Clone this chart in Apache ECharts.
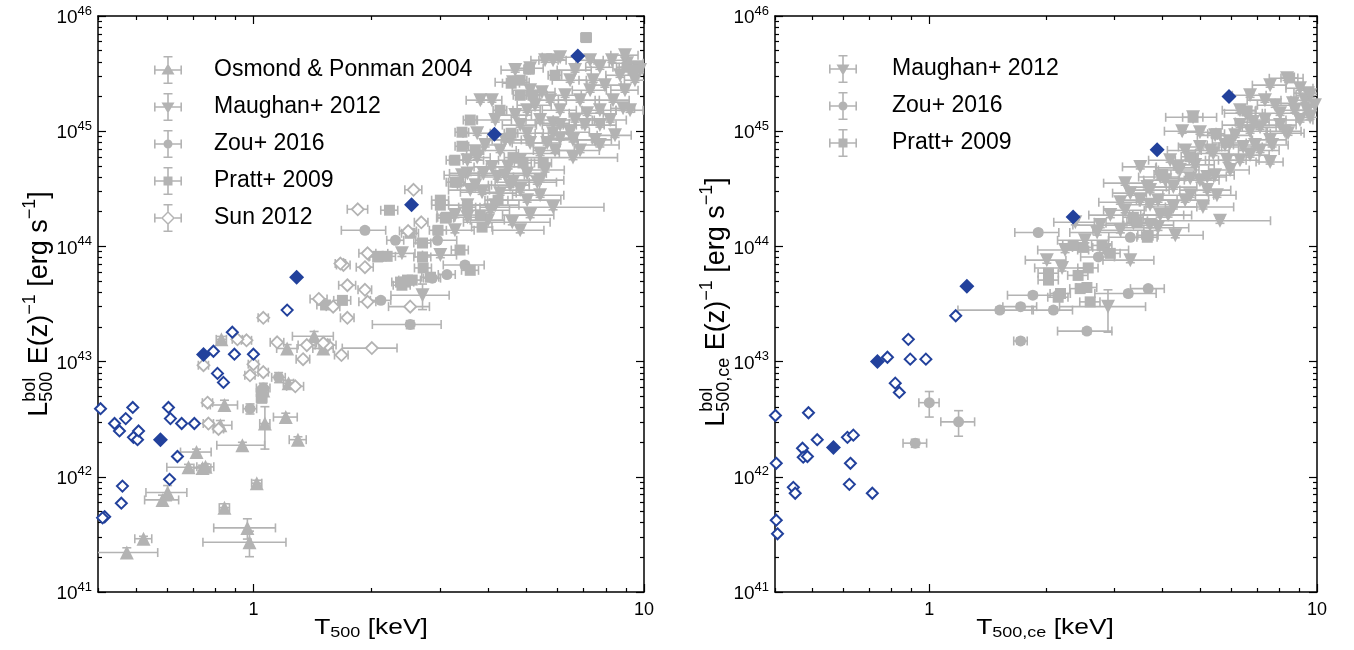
<!DOCTYPE html>
<html><head><meta charset="utf-8">
<script src="https://cdn.jsdelivr.net/npm/echarts@6/dist/echarts.min.js"></script>
<style>html,body{margin:0;padding:0;background:#fff}#c{width:1354px;height:650px}</style>
</head><body><div id="c"></div>
<script>
// ---------------- data (T in keV, L in erg/s, eT/eL fractional errors) ----------------
const xRange = [0.4, 10];
const yRangeExp = [41, 46];
const xMajor = [1, 10];
const xMinor = [0.4, 0.5, 0.6, 0.7, 0.8, 0.9, 2, 3, 4, 5, 6, 7, 8, 9];
const yMajorExp = [41, 42, 43, 44, 45, 46];
const yMinorFactors = [2, 3, 4, 5, 6, 7, 8, 9];

const legendLeft = ['Osmond & Ponman 2004', 'Maughan+ 2012', 'Zou+ 2016', 'Pratt+ 2009', 'Sun 2012'];
const legendRight = ['Maughan+ 2012', 'Zou+ 2016', 'Pratt+ 2009'];

// Left panel: T500
const osmondL = [
  [1.43,1.66e43,0.12,0.10],[1.22,1.3e43,0.06,0.08],[1.51,1.3e43,0.06,0.08],[0.843,4.2e42,0.08,0.10],
  [0.823,2.8e42,0.07,0.10],[1.07,2.9e42,0.03,0.40],[1.21,3.3e42,0.07,0.08],[0.937,1.88e42,0.14,0.06],
  [1.30,2.1e42,0.05,0.06],[0.715,1.64e42,0.09,0.06],[0.682,1.21e42,0.12,0.06],[0.741,1.19e42,0.05,0.06],
  [0.754,1.22e42,0.05,0.06],[0.603,7.3e41,0.12,0.15],[0.585,6.3e41,0.10,0.10],[1.02,8.8e41,0.03,0.06],
  [0.843,5.4e41,0.03,0.08],[0.965,3.6e41,0.18,0.20],[0.977,2.7e41,0.24,0.25],[0.523,2.9e41,0.05,0.05],
  [0.474,2.2e41,0.20,0.10],[1.23,6.5e42,0.03,0.06],[1.06,5.6e42,0.03,0.06],[0.828,1.56e43,0.03,0.06]
];
const maughanL = [
  [5.11,3.52e45,0.08,0.04],[6.10,4.39e45,0.10,0.04],[5.85,4.13e45,0.08,0.04],[8.28,4.13e45,0.10,0.04],
  [7.71,3.59e45,0.08,0.04],[9.05,3.89e45,0.10,0.04],[9.60,3.59e45,0.10,0.04],[4.08,1.86e45,0.06,0.04],
  [4.62,2.66e45,0.10,0.04],[6.47,2.77e45,0.10,0.04],[7.41,2.77e45,0.08,0.04],[5.48,2.18e45,0.08,0.04],
  [6.86,1.86e45,0.12,0.04],[8.33,1.86e45,0.10,0.04],[8.84,1.58e45,0.07,0.04],[5.02,1.52e45,0.08,0.04],
  [6.10,1.52e45,0.10,0.04],[7.15,1.43e45,0.10,0.04],[5.42,1.25e45,0.08,0.04],[5.85,1.17e45,0.10,0.04],
  [3.74,9.6e44,0.08,0.04],[5.02,9.6e44,0.10,0.04],[5.85,9.6e44,0.10,0.04],[6.47,9.8e44,0.12,0.04],
  [5.11,7.9e44,0.10,0.04],[5.65,7.9e44,0.08,0.04],[6.10,8.7e44,0.10,0.04],[6.58,8.4e44,0.12,0.04],
  [5.42,6.4e44,0.12,0.04],[6.58,5.9e44,0.30,0.04],[3.53,5.6e44,0.10,0.04],[3.74,5.9e44,0.08,0.04],
  [4.08,4.9e44,0.10,0.04],[4.49,4.9e44,0.12,0.04],[5.02,4.3e44,0.12,0.04],[5.42,3.76e44,0.15,0.04],
  [3.53,4.3e44,0.10,0.04],[3.88,4.3e44,0.10,0.04],[4.21,4.0e44,0.10,0.04],[4.62,3.61e44,0.10,0.04],
  [3.85,2.95e44,0.12,0.04],[4.28,2.9e44,0.10,0.04],[5.02,2.52e44,0.22,0.04],[5.85,2.19e44,0.35,0.05],
  [3.53,2.28e44,0.15,0.04],[4.60,1.62e44,0.25,0.05],[3.53,1.79e44,0.12,0.05],[3.99,1.69e44,0.10,0.05],
  [5.33,3.61e44,0.12,0.04],[2.71,3.77e43,0.17,0.25],[2.40,8.7e43,0.08,0.06],[7.28,2.27e45,0.10,0.04],
  [7.94,2.51e45,0.10,0.04],[8.68,3.06e45,0.08,0.04],[9.77,3.39e45,0.06,0.04],[4.82,1.13e45,0.10,0.04],
  [4.41,8.4e44,0.10,0.04],[5.75,1.86e45,0.10,0.04],[6.66,1.25e45,0.12,0.04],[7.50,8.4e44,0.10,0.04],
  [4.68,1.38e45,0.10,0.04],[5.26,1.68e45,0.10,0.04],[6.28,2.05e45,0.10,0.04],[7.06,1.13e45,0.12,0.04],
  [7.71,1.52e45,0.10,0.04],[8.19,1.25e45,0.10,0.04],[8.94,2.27e45,0.08,0.04],[5.92,6.8e44,0.12,0.04],
  [4.82,5.6e44,0.12,0.04],[5.58,4.6e44,0.12,0.04],[4.28,6.8e44,0.10,0.04],[3.92,7.6e44,0.10,0.04],
  [6.10,1.13e45,0.10,0.04],[5.11,2.27e45,0.10,0.04],[4.68,3.39e45,0.08,0.04],[6.66,3.39e45,0.10,0.04],
  [7.28,4.13e45,0.08,0.04],[6.86,6.8e44,0.12,0.04],[4.54,3.4e44,0.12,0.04],[4.16,2.28e44,0.15,0.04],
  [3.59,3.08e44,0.12,0.04],[4.82,1.38e44,0.15,0.05],[3.28,1.38e44,0.12,0.05],[3.01,8.4e43,0.10,0.05],
  [5.42,2.78e44,0.15,0.04],[3.42,4.15e44,0.10,0.04],[3.70,3.4e44,0.10,0.04],[4.41,4.15e44,0.12,0.04],
  [4.82,3.08e44,0.12,0.04],[4.04,2.06e44,0.12,0.04],[3.28,1.87e44,0.10,0.05],[5.11,1.87e44,0.15,0.05],
  [7.71,1.13e45,0.10,0.04],[8.43,9.2e44,0.10,0.04],[9.21,1.52e45,0.08,0.04],[7.71,7.6e44,0.12,0.04],
  [5.58,4.13e45,0.08,0.04],[8.94,4.57e45,0.08,0.04],[9.48,2.77e45,0.06,0.04],[4.16,1.25e45,0.10,0.04],
  [4.54,8.4e44,0.10,0.04],[3.81,1.86e45,0.08,0.04]
];
const zouL = [
  [1.93,1.38e44,0.13,0.05],[2.31,1.13e44,0.05,0.05],[2.96,1.13e44,0.12,0.05],[3.48,6.9e43,0.12,0.06],
  [3.13,5.7e43,0.05,0.05],[2.87,5.3e43,0.05,0.05],[2.12,3.4e43,0.06,0.05],[2.52,2.1e43,0.20,0.08],
  [0.98,3.9e42,0.04,0.10],[1.16,7.3e42,0.04,0.10],[1.06,5.9e42,0.04,0.10]
];
const prattL = [
  [7.11,6.5e45,0.03,0.03],[5.08,3.45e45,0.03,0.03],[4.57,2.61e45,0.05,0.03],[4.82,2.05e45,0.04,0.03],
  [5.20,2.05e45,0.04,0.03],[3.42,9.8e44,0.04,0.03],[4.57,9.6e44,0.04,0.03],[3.42,7.4e44,0.04,0.03],
  [3.28,3.61e44,0.05,0.03],[3.12,1.79e44,0.05,0.03],[2.97,1.38e44,0.05,0.03],[3.81,1.87e44,0.06,0.03],
  [3.85,1.47e44,0.06,0.03],[2.71,1.07e44,0.05,0.03],[2.23,2.06e44,0.05,0.03],[4.23,2.52e44,0.06,0.03],
  [4.62,5.9e44,0.05,0.03],[4.90,5.3e44,0.05,0.03],[5.52,5.3e44,0.05,0.03],[9.05,3.59e45,0.06,0.03],
  [9.37,3.39e45,0.06,0.03],[2.09,8.2e43,0.05,0.03],[2.20,8.2e43,0.05,0.03],[2.71,8.1e43,0.05,0.03],
  [2.72,6.5e43,0.05,0.03],[2.45,4.9e43,0.05,0.03],[2.55,5.1e43,0.05,0.03],[2.40,4.6e43,0.05,0.03],
  [3.10,1.76e44,0.05,0.03],[3.53,2.19e44,0.05,0.03],[3.32,3.61e44,0.05,0.03],[2.52,1.30e44,0.05,0.03],
  [1.53,3.1e43,0.05,0.03],[1.69,3.4e43,0.05,0.03],[2.48,5.1e43,0.05,0.03],[2.38,4.9e43,0.05,0.03],
  [2.84,5.4e43,0.05,0.03],[2.08,8.1e43,0.05,0.03],[1.05,5.4e42,0.03,0.05],[1.05,4.8e42,0.03,0.05],
  [3.59,1.25e45,0.04,0.03],[4.28,1.52e45,0.04,0.03],[3.38,9.3e43,0.05,0.03],[3.01,2.52e44,0.05,0.03],
  [3.59,6.2e43,0.05,0.03],[3.70,6.8e44,0.05,0.03],[3.28,5.6e44,0.05,0.03],[3.01,2.28e44,0.05,0.03],
  [4.82,2.77e45,0.04,0.03],[5.92,3.06e45,0.04,0.03]
];
const sunL = [
  [2.57,3.1e44,0.05,0.04],[1.85,2.1e44,0.06,0],[2.69,1.62e44,0.04,0],[2.49,1.36e44,0.05,0],
  [1.96,8.7e43,0.05,0],[1.70,6.9e43,0.04,0],[1.93,6.6e43,0.05,0],[1.74,4.6e43,0.05,0],
  [1.93,4.2e43,0.04,0],[1.47,3.5e43,0.05,0],[1.60,3.0e43,0.04,0],[1.74,2.4e43,0.04,0],
  [1.96,3.3e43,0.05,0],[2.52,3.0e43,0.12,0],[1.06,2.4e43,0.03,0],[0.96,1.53e43,0.03,0],
  [1.15,1.47e43,0.04,0],[1.37,1.39e43,0.05,0],[1.55,1.39e43,0.05,0],[2.01,1.31e43,0.16,0],
  [1.68,1.14e43,0.04,0],[1.34,1.05e43,0.04,0],[1.0,9.5e42,0.03,0],[0.98,7.6e42,0.03,0],
  [1.06,8.1e42,0.03,0],[1.28,6.1e42,0.05,0],[0.763,4.4e42,0.03,0],[0.745,9.3e42,0.03,0],
  [0.91,1.56e43,0.03,0],[0.767,2.9e42,0.03,0],[0.814,2.6e42,0.03,0],[1.51,1.45e43,0.04,0],
  [1.67,7.1e43,0.03,0]
];
const blueOpenL = [
  [0.406,3.9e42],[0.441,2.9e42],[0.454,2.5e42],[0.471,3.2e42],[0.491,4.0e42],[0.493,2.2e42],
  [0.505,2.1e42],[0.508,2.5e42],[0.606,4.0e42],[0.613,3.2e42],[0.655,2.9e42],[0.706,2.9e42],
  [0.639,1.5e42],[0.610,9.5e41],[0.462,8.3e41],[0.459,5.9e41],[0.416,4.5e41],[0.411,4.4e41],
  [0.790,1.23e43],[0.883,1.8e43],[0.894,1.16e43],[0.809,7.9e42],[0.838,6.6e42],[1.0,1.16e43],
  [1.22,2.8e43]
];
const blueFilledL = [[6.77,4.5e45],[4.14,9.4e44],[2.54,2.3e44],[1.29,5.4e43],[0.745,1.15e43],[0.578,2.1e42]];

// Right panel: T500,ce
const maughanR = [
  [8.37,2.88e45,0.10,0.04],[7.57,2.51e45,0.10,0.04],[9.48,2.14e45,0.08,0.04],[4.79,1.32e45,0.15,0.04],
  [4.49,1.0e45,0.10,0.04],[4.99,9.8e44,0.10,0.04],[8.42,9.6e44,0.10,0.04],[7.66,7.6e44,0.10,0.04],
  [7.57,5.4e44,0.08,0.04],[3.50,4.9e44,0.10,0.04],[3.20,3.54e44,0.12,0.04],[3.30,2.9e44,0.10,0.04],
  [3.11,2.42e44,0.12,0.04],[3.89,2.52e44,0.12,0.04],[4.26,2.2e44,0.15,0.04],[5.08,2.2e44,0.20,0.04],
  [5.62,1.67e44,0.35,0.05],[5.52,2.78e44,0.12,0.04],[4.13,1.87e44,0.15,0.04],[3.89,1.45e44,0.20,0.05],
  [3.36,1.59e44,0.15,0.04],[2.71,1.32e44,0.15,0.05],[2.38,1.62e44,0.12,0.05],[2.01,7.6e43,0.12,0.06],
  [2.20,6.5e43,0.15,0.06],[2.89,3.0e43,0.25,0.40],[6.56,1.43e45,0.12,0.04],[6.84,1.20e45,0.10,0.04],
  [5.97,7.9e44,0.10,0.04],[6.45,7.3e44,0.12,0.04],[5.40,6.4e44,0.10,0.04],[4.79,5.6e44,0.10,0.04],
  [4.36,4.8e44,0.12,0.04],[3.94,4.0e44,0.12,0.04],[3.65,3.27e44,0.12,0.04],[4.71,3.91e44,0.15,0.04],
  [5.21,4.0e44,0.12,0.04],[5.86,5.6e44,0.12,0.04],[7.13,1.08e45,0.10,0.04],[8.03,1.43e45,0.10,0.04],
  [8.67,1.75e45,0.10,0.04],[9.42,1.52e45,0.08,0.04],[9.60,1.32e45,0.08,0.04],[4.99,7.3e44,0.12,0.04],
  [4.26,3.27e44,0.15,0.04],[5.21,3.08e44,0.15,0.04],[4.57,6.8e44,0.10,0.04],[5.46,9.2e44,0.10,0.04],
  [6.33,1.13e45,0.10,0.04],[7.34,1.86e45,0.10,0.04],[3.71,2.3e44,0.15,0.04],
  [2.93,1.87e44,0.12,0.05],[3.20,2.06e44,0.12,0.05],[3.50,2.52e44,0.12,0.04],[3.71,3.08e44,0.12,0.04],
  [4.06,3.76e44,0.12,0.04],[4.43,4.6e44,0.12,0.04],[4.85,5.1e44,0.12,0.04],[5.30,6.8e44,0.12,0.04],
  [5.79,7.6e44,0.10,0.04],[6.15,9.2e44,0.10,0.04],[6.72,1.0e45,0.10,0.04],[7.34,1.25e45,0.10,0.04],
  [8.03,1.13e45,0.10,0.04],[8.77,1.52e45,0.10,0.04],[9.31,1.86e45,0.08,0.04],[4.71,2.78e44,0.15,0.04],
  [4.18,5.6e44,0.12,0.04],[6.33,5.6e44,0.12,0.04],[6.92,7.6e44,0.12,0.04],[5.46,4.15e44,0.12,0.04],
  [3.94,1.87e44,0.15,0.04],[3.11,1.38e44,0.15,0.05],[2.52,1.13e44,0.15,0.05],[2.76,1.53e44,0.15,0.05],
  [2.24,9.3e43,0.15,0.05],[9.04,2.36e45,0.08,0.04],[9.60,2.05e45,0.08,0.04],
  [4.99,3.76e44,0.12,0.04],[5.97,4.6e44,0.12,0.04],[6.72,6.2e44,0.12,0.04],[7.57,8.4e44,0.10,0.04],
  [8.27,1.0e45,0.10,0.04],[9.04,1.25e45,0.08,0.04],[9.88,1.68e45,0.06,0.04],[7.13,6.8e44,0.12,0.04],
  [4.57,2.52e44,0.15,0.04],[3.71,1.53e44,0.15,0.05],[4.31,1.25e44,0.18,0.05],[2.84,9.3e43,0.15,0.05],
  [3.30,7.6e43,0.15,0.05],[7.80,1.68e45,0.10,0.04],[6.72,2.05e45,0.10,0.04],[6.33,1.52e45,0.10,0.04]
];
const zouR = [
  [1.91,1.32e44,0.13,0.05],[3.30,1.20e44,0.12,0.05],[2.73,8.1e43,0.10,0.05],[1.85,3.77e43,0.14,0.06],
  [1.72,3.0e43,0.10,0.06],[1.52,2.8e43,0.22,0.06],[2.09,2.8e43,0.12,0.06],[3.26,3.9e43,0.18,0.06],
  [3.67,4.3e43,0.10,0.06],[2.55,1.84e43,0.16,0.06],[1.72,1.51e43,0.04,0.06],[1.00,4.4e42,0.06,0.25],
  [1.19,3.0e42,0.10,0.25],[0.92,1.96e42,0.07,0.08]
];
const prattR = [
  [3.36,1.79e44,0.06,0.03],[3.65,1.20e44,0.06,0.03],[2.79,1.02e44,0.06,0.03],[2.93,8.7e43,0.06,0.03],
  [2.49,9.8e43,0.06,0.03],[2.35,1.02e44,0.06,0.03],[2.57,6.5e43,0.06,0.03],[2.42,5.6e43,0.06,0.03],
  [2.03,5.85e43,0.06,0.03],[2.03,5.1e43,0.06,0.03],[2.18,3.9e43,0.06,0.03],[2.55,4.4e43,0.06,0.03],
  [2.60,3.3e43,0.06,0.03],[4.79,1.32e45,0.06,0.03],[2.45,4.3e43,0.06,0.03],[2.15,3.62e43,0.06,0.03],
  [3.44,1.62e44,0.06,0.03],[3.67,1.25e44,0.06,0.03],[8.5,2.9e45,0.05,0.03],[6.6,1.5e45,0.05,0.03],
  [5.5,9.5e44,0.05,0.03],[4.7,6.0e44,0.05,0.03],[4.0,4.2e44,0.05,0.03]
];
const blueOpenR = [
  [1.17,2.5e43],[0.883,1.56e43],[0.780,1.09e43],[0.893,1.05e43],[0.98,1.05e43],[0.817,6.5e42],
  [0.837,5.4e42],[0.401,3.4e42],[0.488,3.6e42],[0.514,2.1e42],[0.471,1.77e42],[0.473,1.48e42],
  [0.485,1.5e42],[0.615,2.2e42],[0.637,2.3e42],[0.626,1.31e42],[0.622,8.6e41],[0.713,7.2e41],
  [0.446,8.1e41],[0.451,7.2e41],[0.403,1.31e42],[0.403,4.2e41],[0.406,3.2e41]
];
const blueFilledR = [[5.93,2.0e45],[3.87,6.9e44],[2.35,1.8e44],[1.25,4.5e43],[0.735,1.0e43],[0.566,1.8e42]];

// ---------------- styling ----------------
const FONT = '"Liberation Sans", Arial, Helvetica, sans-serif';
const GRAY = '#b3b3b3';
const BLUE = '#22419c';
const lg = Math.log10;

const grids = [
  { left: 98, top: 16, width: 546, height: 576 },
  { left: 775, top: 16, width: 542, height: 576 }
];

const yMinorExp = [];
for (let e = yRangeExp[0]; e < yRangeExp[1]; e++) yMinorFactors.forEach(f => yMinorExp.push(e + lg(f)));

const axLine = { show: true, onZero: false, lineStyle: { color: '#000', width: 1.5 } };
const noLine = { show: false, onZero: false };
const tickStyle = { color: '#000', width: 1.2 };

function makeX(gi) {
  const base = { gridIndex: gi, type: 'value', min: lg(xRange[0]), max: lg(xRange[1]), splitLine: { show: false } };
  const lab = { customValues: xMajor.map(lg), formatter: v => String(Math.round(Math.pow(10, v))),
    color: '#000', fontSize: 18, fontFamily: FONT, margin: 9 };
  return [
    Object.assign({}, base, { position: 'bottom', axisLine: axLine, axisTick: { inside: true, length: 8, customValues: xMajor.map(lg), lineStyle: tickStyle }, axisLabel: lab }),
    Object.assign({}, base, { position: 'bottom', axisLine: noLine, axisTick: { inside: true, length: 4, customValues: xMinor.map(lg), lineStyle: tickStyle }, axisLabel: { show: false } }),
    Object.assign({}, base, { position: 'top', axisLine: axLine, axisTick: { inside: true, length: 8, customValues: xMajor.map(lg), lineStyle: tickStyle }, axisLabel: { show: false } }),
    Object.assign({}, base, { position: 'top', axisLine: noLine, axisTick: { inside: true, length: 4, customValues: xMinor.map(lg), lineStyle: tickStyle }, axisLabel: { show: false } })
  ];
}
function makeY(gi) {
  const base = { gridIndex: gi, type: 'value', min: yRangeExp[0], max: yRangeExp[1], splitLine: { show: false } };
  const lab = { customValues: yMajorExp, formatter: v => '{b|10}{s|' + v + '}', margin: 6,
    rich: { b: { fontSize: 19, fontFamily: FONT, color: '#000', lineHeight: 23, verticalAlign: 'bottom' },
            s: { fontSize: 13, fontFamily: FONT, color: '#000', lineHeight: 13, verticalAlign: 'top' } } };
  return [
    Object.assign({}, base, { position: 'left', axisLine: axLine, axisTick: { inside: true, length: 8, customValues: yMajorExp, lineStyle: tickStyle }, axisLabel: lab }),
    Object.assign({}, base, { position: 'left', axisLine: noLine, axisTick: { inside: true, length: 4, customValues: yMinorExp, lineStyle: tickStyle }, axisLabel: { show: false } }),
    Object.assign({}, base, { position: 'right', axisLine: axLine, axisTick: { inside: true, length: 8, customValues: yMajorExp, lineStyle: tickStyle }, axisLabel: { show: false } }),
    Object.assign({}, base, { position: 'right', axisLine: noLine, axisTick: { inside: true, length: 4, customValues: yMinorExp, lineStyle: tickStyle }, axisLabel: { show: false } })
  ];
}

function errData(arr) {
  return arr.map(([T, L, eT, eL]) => [lg(T), lg(L), lg(T * (1 - eT)), lg(T * (1 + eT)), lg(L * (1 - eL)), lg(L * (1 + eL))]);
}
function ptData(arr) { return arr.map(p => [lg(p[0]), lg(p[1])]); }

function errRender(params, api) {
  const y = api.value(1), x = api.value(0);
  const x0 = api.value(2), x1 = api.value(3), y0 = api.value(4), y1 = api.value(5);
  const st = { stroke: GRAY, lineWidth: 1.6, fill: null };
  const cap = 4.5, kids = [];
  if (x1 > x0 + 1e-9) {
    const a = api.coord([x0, y]), b = api.coord([x1, y]);
    kids.push({ type: 'line', shape: { x1: a[0], y1: a[1], x2: b[0], y2: b[1] }, style: st });
    kids.push({ type: 'line', shape: { x1: a[0], y1: a[1] - cap, x2: a[0], y2: a[1] + cap }, style: st });
    kids.push({ type: 'line', shape: { x1: b[0], y1: b[1] - cap, x2: b[0], y2: b[1] + cap }, style: st });
  }
  if (y1 > y0 + 1e-9) {
    const a = api.coord([x, y0]), b = api.coord([x, y1]);
    kids.push({ type: 'line', shape: { x1: a[0], y1: a[1], x2: b[0], y2: b[1] }, style: st });
    kids.push({ type: 'line', shape: { x1: a[0] - cap, y1: a[1], x2: a[0] + cap, y2: a[1] }, style: st });
    kids.push({ type: 'line', shape: { x1: b[0] - cap, y1: b[1], x2: b[0] + cap, y2: b[1] }, style: st });
  }
  return { type: 'group', children: kids };
}

const markerDefs = {
  'Osmond & Ponman 2004': { symbol: 'triangle', size: 14, rotate: 0 },
  'Maughan+ 2012': { symbol: 'triangle', size: 14, rotate: 180 },
  'Zou+ 2016': { symbol: 'circle', size: 11, rotate: 0 },
  'Pratt+ 2009': { symbol: 'rect', size: 11, rotate: 0 },
  'Sun 2012': { symbol: 'diamond', size: 12, rotate: 0, hollow: true }
};

const series = [];
function addGray(name, arr, gi) {
  const ax = gi * 4;
  const m = markerDefs[name];
  series.push({ type: 'custom', name: name + ' err', xAxisIndex: ax, yAxisIndex: ax, renderItem: errRender,
    data: errData(arr), encode: { x: [0, 2, 3], y: [1, 4, 5] }, clip: true, silent: true, z: 2 });
  series.push({ type: 'scatter', name, xAxisIndex: ax, yAxisIndex: ax, data: ptData(arr), symbol: m.symbol,
    symbolSize: m.size, symbolRotate: m.rotate, clip: true, silent: true, z: 3,
    itemStyle: m.hollow ? { color: '#fff', borderColor: GRAY, borderWidth: 1.8, opacity: 1 } : { color: GRAY, opacity: 1 } });
}
function addBlue(arr, gi, filled) {
  const ax = gi * 4;
  series.push({ type: 'scatter', name: filled ? 'blue filled' : 'blue open', xAxisIndex: ax, yAxisIndex: ax,
    data: ptData(arr), symbol: 'diamond', symbolSize: filled ? 15 : 11, clip: true, silent: true, z: 4,
    itemStyle: filled ? { color: BLUE, opacity: 1 } : { color: '#fff', borderColor: BLUE, borderWidth: 2, opacity: 1 } });
}
addGray('Osmond & Ponman 2004', osmondL, 0);
addGray('Maughan+ 2012', maughanL, 0);
addGray('Zou+ 2016', zouL, 0);
addGray('Pratt+ 2009', prattL, 0);
addGray('Sun 2012', sunL, 0);
addBlue(blueOpenL, 0, false);
addBlue(blueFilledL, 0, true);
addGray('Maughan+ 2012', maughanR, 1);
addGray('Zou+ 2016', zouR, 1);
addGray('Pratt+ 2009', prattR, 1);
addBlue(blueOpenR, 1, false);
addBlue(blueFilledR, 1, true);

// legend icons: error-bar cross + marker, in a 28x28 box
const BARS = 'M0 13.2H28V14.8H0Z M13.2 0H14.8V28H13.2Z M0 9.5H1.6V18.5H0Z M26.4 9.5H28V18.5H26.4Z M9.5 0H18.5V1.6H9.5Z M9.5 26.4H18.5V28H9.5Z ';
const CAPS = 'M0 9.5H1.6V18.5H0Z M26.4 9.5H28V18.5H26.4Z M9.5 0H18.5V1.6H9.5Z M9.5 26.4H18.5V28H9.5Z ';
const icons = {
  'Osmond & Ponman 2004': 'path://' + BARS + 'M14 7.5L20.5 18.5H7.5Z',
  'Maughan+ 2012': 'path://' + BARS + 'M7.5 9.5H20.5L14 20.5Z',
  'Zou+ 2016': 'path://' + BARS + 'M14 9.5A4.5 4.5 0 1 1 13.99 9.5Z',
  'Pratt+ 2009': 'path://' + BARS + 'M9.5 9.5H18.5V18.5H9.5Z',
  'Sun 2012': 'path://' + CAPS + 'M0 13.2H7.4V14.8H0Z M20.6 13.2H28V14.8H20.6Z M13.2 0H14.8V7.4H13.2Z M13.2 20.6H14.8V28H13.2Z M14 7L21 14L14 21L7 14Z M14 9L9 14L14 19L19 14Z'
};
function legendOf(names, left, top, gap) {
  return { orient: 'vertical', left, top, padding: 0, itemWidth: 28, itemHeight: 28, itemGap: 9,
    selectedMode: false, inactiveColor: GRAY,
    textStyle: { fontSize: 23, fontFamily: FONT, color: '#000', padding: [0, 0, 0, gap] },
    data: names.map(n => ({ name: n, icon: icons[n], itemStyle: { color: GRAY, borderWidth: 0, opacity: 1 } })) };
}

// axis titles with sub/superscripts, composed from measured text pieces
const mctx = document.createElement('canvas').getContext('2d');
function tw(t, s) { mctx.font = s + 'px ' + FONT; return mctx.measureText(t).width; }
function piece(t, x, y, s) {
  return { type: 'text', x, y, silent: true, style: { text: t, fontSize: s, fontFamily: FONT, fill: '#000', align: 'left', verticalAlign: 'middle' } };
}
function mathTitle(segs, cx, cy, rot, sx, sy) {
  let x = 0; const kids = [];
  segs.forEach(g => {
    if (g.sup !== undefined) {
      kids.push(piece(g.sup, x, g.supDy, g.s));
      kids.push(piece(g.sub, x, g.subDy, g.s));
      x += Math.max(tw(g.sup, g.s), tw(g.sub, g.s));
    } else {
      kids.push(piece(g.t, x, g.dy || 0, g.s));
      x += tw(g.t, g.s);
    }
  });
  kids.forEach(k => { k.x -= x / 2; });
  return { type: 'group', x: cx, y: cy, rotation: rot, scaleX: sx, scaleY: sy, children: kids };
}
const BIG = 22, SM = 15, YB = 27, YS = 18;
const graphics = [
  mathTitle([{ t: 'T', s: BIG }, { t: '500', s: SM, dy: 5 }, { t: ' [keV]', s: BIG }], 371, 628, 0, 1.2, 1),
  mathTitle([{ t: 'T', s: BIG }, { t: '500,ce', s: SM, dy: 5 }, { t: ' [keV]', s: BIG }], 1045, 628, 0, 1.2, 1),
  mathTitle([{ t: 'L', s: YB }, { sup: 'bol', sub: '500', s: YS, supDy: -10, subDy: 7 }, { t: ' E(z)', s: YB },
    { t: '\u22121', s: YS, dy: -10 }, { t: ' [erg s', s: YB }, { t: '\u22121', s: YS, dy: -10 }, { t: ']', s: YB }], 40, 304, Math.PI / 2, 1, 1),
  mathTitle([{ t: 'L', s: YB }, { sup: 'bol', sub: '500,ce', s: YS, supDy: -10, subDy: 7 }, { t: ' E(z)', s: YB },
    { t: '\u22121', s: YS, dy: -10 }, { t: ' [erg s', s: YB }, { t: '\u22121', s: YS, dy: -10 }, { t: ']', s: YB }], 717, 302, Math.PI / 2, 1, 1)
];

const chart = echarts.init(document.getElementById('c'), null, { renderer: 'canvas' });
chart.setOption({
  animation: false,
  backgroundColor: '#fff',
  grid: grids,
  xAxis: makeX(0).concat(makeX(1)),
  yAxis: makeY(0).concat(makeY(1)),
  legend: [legendOf(legendLeft, 154, 56, 27), legendOf(legendRight, 829, 55, 30)],
  graphic: graphics,
  series
});
</script></body></html>
